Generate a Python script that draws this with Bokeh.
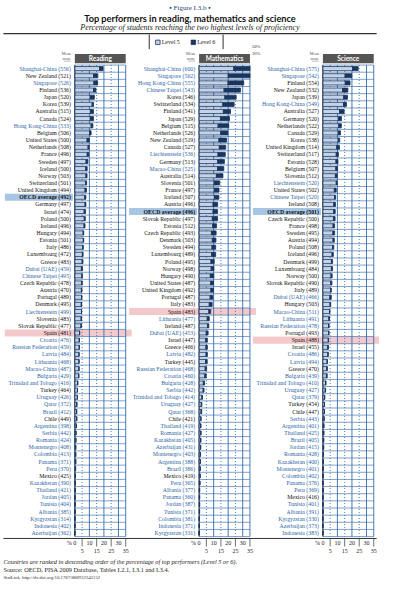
import numpy as np
from bokeh.plotting import figure
from bokeh.models import Range1d, ColumnDataSource
from bokeh.core.properties import value
from bokeh.embed import file_html
from bokeh.resources import INLINE

# ---------------- data ----------------
oecd_members = ["Australia", "Austria", "Belgium", "Canada", "Chile", "Czech Republic", "Denmark",
                "Estonia", "Finland", "France", "Germany", "Greece", "Hungary", "Iceland", "Ireland",
                "Israel", "Italy", "Japan", "Korea", "Luxembourg", "Mexico", "Netherlands", "New Zealand",
                "Norway", "Poland", "Portugal", "Slovak Republic", "Slovenia", "Spain", "Sweden",
                "Switzerland", "Turkey", "United Kingdom", "United States", "OECD average"]

reading_countries = ["Shanghai-China", "New Zealand", "Singapore", "Finland", "Japan", "Korea", "Australia",
    "Canada", "Hong Kong-China", "Belgium", "United States", "Netherlands", "France", "Sweden", "Iceland",
    "Norway", "Switzerland", "United Kingdom", "OECD average", "Germany", "Israel", "Poland", "Ireland",
    "Hungary", "Estonia", "Italy", "Luxembourg", "Greece", "Dubai (UAE)", "Chinese Taipei", "Czech Republic",
    "Austria", "Portugal", "Denmark", "Liechtenstein", "Slovenia", "Slovak Republic", "Spain", "Croatia",
    "Russian Federation", "Latvia", "Lithuania", "Macao-China", "Bulgaria", "Trinidad and Tobago", "Turkey",
    "Uruguay", "Qatar", "Brazil", "Chile", "Argentina", "Serbia", "Romania", "Montenegro", "Colombia",
    "Panama", "Peru", "Mexico", "Kazakhstan", "Thailand", "Jordan", "Tunisia", "Albania", "Kyrgyzstan",
    "Indonesia", "Azerbaijan"]
reading_means = [556, 521, 526, 536, 520, 539, 515, 524, 533, 506, 500, 508, 496, 497, 500, 503, 501, 494,
    492, 497, 474, 500, 496, 494, 501, 486, 472, 483, 459, 495, 478, 470, 489, 495, 499, 483, 477, 481, 476,
    459, 484, 468, 487, 429, 416, 464, 426, 372, 412, 449, 398, 442, 424, 408, 413, 371, 370, 425, 390, 421,
    405, 404, 385, 314, 402, 362]
reading_l5 = [17.0, 12.9, 13.1, 12.9, 10.5, 11.9, 10.7, 10.6, 11.2, 10.1, 8.4, 9.1, 8.5, 7.7, 7.5, 7.6, 7.4,
    7.0, 6.8, 7.0, 6.4, 6.5, 6.3, 5.7, 5.8, 5.4, 5.2, 5.0, 4.5, 4.8, 4.7, 4.5, 4.6, 4.4, 4.6, 4.3, 4.2, 3.2,
    3.0, 3.0, 2.8, 2.8, 2.8, 2.6, 1.9, 1.8, 1.7, 1.3, 1.2, 1.3, 0.9, 0.8, 0.7, 0.6, 0.6, 0.6, 0.5, 0.4, 0.4,
    0.3, 0.2, 0.2, 0.1, 0.1, 0.0, 0.0]
reading_l6 = [2.4, 2.9, 2.6, 1.6, 2.9, 1.0, 2.1, 2.2, 1.2, 1.1, 1.5, 0.7, 1.1, 1.3, 1.0, 0.8, 0.7, 1.0, 0.8,
    0.6, 1.0, 0.7, 0.7, 0.4, 0.3, 0.4, 0.5, 0.6, 0.8, 0.4, 0.4, 0.4, 0.2, 0.3, 0.0, 0.3, 0.3, 0.2, 0.2, 0.2,
    0.1, 0.1, 0.1, 0.2, 0.2, 0.0, 0.1, 0.2, 0.1, 0.0, 0.1, 0.0, 0.0, 0.0, 0.0, 0.0, 0.0, 0.0, 0.0, 0.0, 0.0,
    0.0, 0.0, 0.0, 0.0, 0.0]

math_countries = ["Shanghai-China", "Singapore", "Hong Kong-China", "Chinese Taipei", "Korea", "Switzerland",
    "Finland", "Japan", "Belgium", "Netherlands", "New Zealand", "Canada", "Liechtenstein", "Germany",
    "Macao-China", "Australia", "Slovenia", "France", "Iceland", "Austria", "OECD average", "Slovak Republic",
    "Estonia", "Czech Republic", "Denmark", "Sweden", "Luxembourg", "Poland", "Norway", "Hungary",
    "United States", "United Kingdom", "Portugal", "Italy", "Spain", "Lithuania", "Ireland", "Dubai (UAE)",
    "Israel", "Greece", "Latvia", "Turkey", "Russian Federation", "Croatia", "Bulgaria", "Serbia",
    "Trinidad and Tobago", "Uruguay", "Qatar", "Chile", "Thailand", "Romania", "Kazakhstan", "Azerbaijan",
    "Montenegro", "Argentina", "Brazil", "Mexico", "Peru", "Albania", "Panama", "Jordan", "Tunisia",
    "Colombia", "Indonesia", "Kyrgyzstan"]
math_means = [600, 562, 555, 543, 546, 534, 541, 529, 515, 526, 519, 527, 536, 513, 525, 514, 501, 497, 507,
    496, 496, 497, 512, 493, 503, 494, 489, 495, 498, 490, 487, 492, 487, 483, 483, 477, 487, 453, 447, 466,
    482, 445, 468, 460, 428, 442, 414, 427, 368, 421, 419, 427, 405, 431, 403, 388, 386, 419, 365, 377, 360,
    387, 371, 381, 371, 331]
math_l5 = [23.8, 20.0, 19.9, 17.2, 17.7, 16.3, 16.7, 14.7, 13.1, 14.9, 13.6, 13.9, 13.0, 12.8, 12.7, 11.9,
    10.3, 10.4, 10.5, 9.6, 9.6, 9.1, 9.4, 8.5, 9.1, 8.9, 8.6, 8.2, 8.3, 7.7, 8.0, 8.1, 7.6, 7.0, 6.7, 5.6,
    5.8, 4.9, 4.5, 4.7, 4.8, 4.4, 4.2, 3.9, 2.9, 2.8, 1.9, 1.5, 1.3, 1.2, 1.0, 1.2, 1.0, 0.9, 0.8, 0.8, 0.7,
    0.7, 0.5, 0.3, 0.3, 0.3, 0.3, 0.1, 0.1, 0.0]
math_l6 = [26.6, 15.6, 10.8, 11.3, 7.8, 7.8, 4.9, 6.2, 7.3, 4.9, 5.3, 4.4, 5.0, 4.6, 4.3, 4.5, 3.9, 3.3, 3.1,
    3.2, 3.1, 3.6, 2.6, 3.2, 2.5, 2.5, 2.8, 2.2, 1.9, 2.4, 1.9, 1.8, 1.9, 2.0, 1.3, 1.4, 0.9, 1.3, 1.2, 1.0,
    0.9, 1.2, 1.0, 1.0, 0.9, 0.6, 0.4, 0.4, 0.5, 0.1, 0.3, 0.1, 0.3, 0.3, 0.2, 0.1, 0.1, 0.0, 0.1, 0.1, 0.1,
    0.1, 0.0, 0.0, 0.0, 0.0]

science_countries = ["Shanghai-China", "Singapore", "Finland", "New Zealand", "Japan", "Hong Kong-China",
    "Australia", "Germany", "Netherlands", "Canada", "Korea", "United Kingdom", "Switzerland", "Estonia",
    "Belgium", "Slovenia", "Liechtenstein", "United States", "Chinese Taipei", "Ireland", "OECD average",
    "Czech Republic", "France", "Sweden", "Austria", "Poland", "Iceland", "Denmark", "Luxembourg", "Norway",
    "Slovak Republic", "Italy", "Dubai (UAE)", "Hungary", "Macao-China", "Lithuania", "Russian Federation",
    "Portugal", "Spain", "Israel", "Croatia", "Latvia", "Greece", "Bulgaria", "Trinidad and Tobago",
    "Uruguay", "Qatar", "Turkey", "Chile", "Serbia", "Argentina", "Thailand", "Brazil", "Jordan", "Romania",
    "Kazakhstan", "Montenegro", "Colombia", "Panama", "Peru", "Mexico", "Tunisia", "Albania", "Kyrgyzstan",
    "Azerbaijan", "Indonesia"]
science_means = [575, 542, 554, 532, 539, 549, 527, 520, 522, 529, 538, 514, 517, 528, 507, 512, 520, 502,
    520, 508, 501, 500, 498, 495, 494, 508, 496, 499, 484, 500, 490, 489, 466, 503, 511, 491, 478, 493, 488,
    455, 486, 494, 470, 439, 410, 427, 379, 454, 447, 443, 401, 425, 405, 415, 428, 400, 401, 402, 376, 369,
    416, 401, 391, 330, 373, 383]
science_l5 = [20.4, 15.3, 15.4, 13.6, 14.3, 14.2, 11.5, 10.6, 10.9, 10.5, 10.5, 9.5, 9.2, 9.0, 8.9, 8.6, 9.2,
    7.9, 8.0, 7.5, 7.4, 7.3, 7.0, 6.9, 7.0, 6.7, 6.3, 5.9, 5.9, 5.6, 5.4, 5.3, 4.8, 4.9, 4.6, 4.1, 3.9, 4.0,
    3.7, 3.3, 3.4, 2.9, 2.6, 2.4, 1.8, 1.6, 1.1, 1.1, 1.0, 0.8, 0.6, 0.6, 0.5, 0.5, 0.4, 0.3, 0.2, 0.1, 0.1,
    0.1, 0.1, 0.1, 0.1, 0.0, 0.0, 0.0]
science_l6 = [3.9, 4.6, 3.3, 3.6, 2.6, 2.0, 3.1, 2.2, 1.8, 1.6, 1.1, 1.9, 1.5, 1.4, 1.2, 1.3, 0.6, 1.3, 0.8,
    1.2, 1.1, 1.1, 1.1, 1.2, 0.9, 0.8, 0.9, 0.8, 0.8, 0.8, 0.8, 0.5, 1.0, 0.5, 0.2, 0.5, 0.4, 0.2, 0.2, 0.6,
    0.3, 0.2, 0.5, 0.6, 0.4, 0.3, 0.3, 0.0, 0.1, 0.1, 0.1, 0.0, 0.1, 0.0, 0.0, 0.0, 0.0, 0.0, 0.0, 0.0, 0.0,
    0.0, 0.0, 0.0, 0.0, 0.0]

panel_titles = ["Reading", "Mathematics", "Science"]
x_ticks_even = [0, 10, 20, 30]
x_ticks_odd = [5, 15, 25, 35]
axis_max = 35
highlight_country = "Spain"

# ---------------- layout (reference px -> figure px) ----------------
W, H = 379, 584
SX, SY = W / 395.0, H / 600.0
def fx(X): return X * SX
def fy(Y): return Y * SY

ROW0_Y, ROW_STEP = 70.0, 7.34
PANEL_X = [(77.5, 130.5), (207.0, 260.0), (336.0, 389.0)]

C_L5 = "#c4d4e8"
C_L6 = "#1a355e"
C_GRID = "#336bb0"
C_BLUE_TXT = "#2e66a6"
C_OECD_BG = "#a8c5e4"
C_SPAIN_BG = "#f2c3c6"
SERIF = value("Liberation Serif")
SANS = value("Lato")

p = figure(width=W, height=H, output_backend="svg", toolbar_location=None,
           x_range=Range1d(0, W), y_range=Range1d(H, 0),
           x_axis_type=None, y_axis_type=None, min_border=0)
p.outline_line_color = None
p.background_fill_color = "white"
p.border_fill_color = "white"

t0 = fy(ROW0_Y)
step = ROW_STEP * SY
p.extra_y_ranges = {"rows": Range1d((H - t0) / step, -t0 / step)}

# ---------------- header ----------------
p.text(x=[W / 2], y=[fy(8)], text=["\u25aa Figure I.3.b \u25aa"], text_font=SERIF,
       text_font_size=value("7px"), text_color="#22466f", text_align="center", text_baseline="middle")
p.text(x=[W / 2], y=[fy(18)], text=["Top performers in reading, mathematics and science"], text_font=SANS,
       text_font_style="bold", text_font_size=value("9.2px"), text_color="#111111",
       text_align="center", text_baseline="middle")
p.text(x=[W / 2], y=[fy(28)], text=["Percentage of students reaching the two highest levels of proficiency"],
       text_font=SERIF, text_font_style="italic", text_font_size=value("8px"), text_color="#222222",
       text_align="center", text_baseline="middle")
p.segment(x0=[fx(3)], x1=[fx(392)], y0=[fy(34)], y1=[fy(34)], line_color="#333333", line_width=1.2)
# legend
p.segment(x0=[fx(155), fx(232)], x1=[fx(155), fx(232)], y0=[fy(35)] * 2, y1=[fy(50)] * 2,
          line_color="#333333", line_width=1)
p.rect(x=[fx(164), fx(201)], y=[fy(43)] * 2, width=4.5, height=4.5,
       fill_color=[C_L5, C_L6], line_color=C_L6, line_width=0.8)
p.text(x=[fx(168), fx(205)], y=[fy(43)] * 2, text=["Level 5", "Level 6"], text_font=SERIF,
       text_font_size=value("6px"), text_color="#222222", text_baseline="middle")

# ---------------- panels ----------------
datasets = [
    (reading_countries, reading_means, reading_l5, reading_l6),
    (math_countries, math_means, math_l5, math_l6),
    (science_countries, science_means, science_l5, science_l6),
]

for k, (title, (countries, means, l5, l6), (zx, ex)) in enumerate(zip(panel_titles, datasets, PANEL_X)):
    key = "px%d" % k
    a, b = fx(zx), fx(ex)
    kk = axis_max / (b - a)
    p.extra_x_ranges[key] = Range1d(-a * kk, (W - a) * kk)
    px = kk  # one pixel in pct units
    n = len(countries)
    rank = np.arange(n)
    l5a = np.array(l5, dtype=float)
    l6a = np.array(l6, dtype=float)
    tot = np.minimum(l5a + l6a, axis_max)
    l5c = np.minimum(l5a, axis_max)

    # highlight bands
    i_oecd = countries.index("OECD average")
    p.hbar(y=[i_oecd], left=[-70 * px], right=[-2 * px], height=1.0, fill_color=C_OECD_BG,
           line_color=None, x_range_name=key, y_range_name="rows")
    i_sp = countries.index(highlight_country)
    p.hbar(y=[i_sp], left=[-70 * px], right=[axis_max + 6 * px], height=1.0, fill_color=C_SPAIN_BG,
           line_color=None, fill_alpha=0.9, x_range_name=key, y_range_name="rows")

    # grid: horizontal row separators
    hy = np.arange(-1, n) + 0.5
    p.segment(x0=0, x1=axis_max, y0=hy, y1=hy, line_color=C_GRID, line_width=0.7, line_alpha=0.9,
              x_range_name=key, y_range_name="rows")
    # vertical lines
    solid_x = x_ticks_even[1:] + [axis_max]
    p.segment(x0=solid_x, x1=solid_x, y0=[-0.5] * len(solid_x), y1=[n - 0.5] * len(solid_x),
              line_color=C_GRID, line_width=0.9, x_range_name=key, y_range_name="rows")
    dash_x = x_ticks_odd[:-1]
    p.segment(x0=dash_x, x1=dash_x, y0=[-0.5] * len(dash_x), y1=[n - 0.5] * len(dash_x),
              line_color=C_GRID, line_width=0.9, line_dash="1 2", x_range_name=key, y_range_name="rows")
    p.segment(x0=[0], x1=[0], y0=[-0.5], y1=[n - 0.5], line_color="#1b2f50", line_width=1.2,
              x_range_name=key, y_range_name="rows")

    # bars
    src = ColumnDataSource(dict(y=rank, l5=l5c, tot=tot))
    p.hbar(y="y", left=0, right="l5", height=0.58, source=src, fill_color=C_L5, line_color=C_L6,
           line_width=0.8, x_range_name=key, y_range_name="rows")
    p.hbar(y="y", left="l5", right="tot", height=0.58, source=src, fill_color=C_L6, line_color=C_L6,
           line_width=0.8, x_range_name=key, y_range_name="rows")

    # labels
    labels = ["%s (%d)" % (c, m) for c, m in zip(countries, means)]
    colors = ["#111111" if c in oecd_members else C_BLUE_TXT for c in countries]
    styles = ["bold" if c == "OECD average" else "normal" for c in countries]
    lsrc = ColumnDataSource(dict(x=[-4 * px] * n, y=rank, t=labels, c=colors, s=styles))
    p.text(x="x", y="y", text="t", text_color="c", text_font_style="s", source=lsrc, text_font=SERIF,
           text_font_size=value("5.8px"), text_align="right", text_baseline="middle",
           x_range_name=key, y_range_name="rows")

    # panel header box
    p.hbar(y=[-1.4], left=[0], right=[axis_max], height=1.3, fill_color="#555555", line_color=None,
           x_range_name=key, y_range_name="rows")
    p.text(x=[axis_max / 2], y=[-1.4], text=[title], text_font=SANS, text_font_style="bold",
           text_font_size=value("6.5px"), text_color="white", text_align="center", text_baseline="middle",
           x_range_name=key, y_range_name="rows")
    p.text(x=[-4 * px] * 2, y=[-2.1, -1.45], text=["Mean", "score"], text_font=SERIF,
           text_font_size=value("4px"), text_color="#555555", text_align="right", text_baseline="middle",
           x_range_name=key, y_range_name="rows")
    p.segment(x0=[-11 * px], x1=[-4 * px], y0=[-1.05], y1=[-1.05], line_color="#777777", line_width=0.5,
              x_range_name=key, y_range_name="rows")

    # overflow annotations
    over = [(i, l5a[i] + l6a[i]) for i in range(n) if l5a[i] + l6a[i] > axis_max]
    for j, (i, v) in enumerate(over):
        p.text(x=[axis_max + 2 * px], y=[fy(47 + 7 * j)], text=["%d%%" % round(v)], text_font=SERIF,
               text_font_size=value("4.5px"), text_color="#333333", text_baseline="middle",
               x_range_name=key)

    # x tick labels
    p.text(x=x_ticks_even, y=[fy(557)] * len(x_ticks_even), text=[str(t) for t in x_ticks_even],
           text_font=SERIF, text_font_size=value("6px"), text_color="#222222", text_align="center",
           text_baseline="middle", x_range_name=key)
    p.text(x=x_ticks_odd, y=[fy(566)] * len(x_ticks_odd), text=[str(t) for t in x_ticks_odd],
           text_font=SERIF, text_font_size=value("6px"), text_color="#222222", text_align="center",
           text_baseline="middle", x_range_name=key)
    p.text(x=[-3 * px], y=[fy(557)], text=["%"], text_font=SERIF, text_font_size=value("6px"),
           text_color="#222222", text_align="right", text_baseline="middle", x_range_name=key)
    p.segment(x0=x_ticks_odd, x1=x_ticks_odd, y0=[fy(553)] * 4, y1=[fy(561)] * 4, line_color="#333333",
              line_width=0.7, x_range_name=key)

# axis baseline
p.segment(x0=[fx(3)], x1=[fx(392)], y0=[fy(552.7)], y1=[fy(552.7)], line_color="#333333", line_width=1)

# ---------------- footer ----------------
p.text(x=[fx(3)], y=[fy(576)],
       text=["Countries are ranked in descending order of the percentage of top performers (Level 5 or 6)."],
       text_font=SERIF, text_font_style="italic", text_font_size=value("6.3px"), text_color="#222222",
       text_baseline="middle")
p.text(x=[fx(3)], y=[fy(584.5)],
       text=["Source: OECD, PISA 2009 Database, Tables I.2.1, I.3.1 and I.3.4."],
       text_font=SERIF, text_font_size=value("6.3px"), text_color="#222222", text_baseline="middle")
p.text(x=[fx(3)], y=[fy(593)], text=["StatLink \u2009http://dx.doi.org/10.1787/888932343152"],
       text_font=SERIF, text_font_size=value("4.8px"), text_color="#333333", text_baseline="middle")

open("out.html", "w").write(file_html(p, INLINE))
